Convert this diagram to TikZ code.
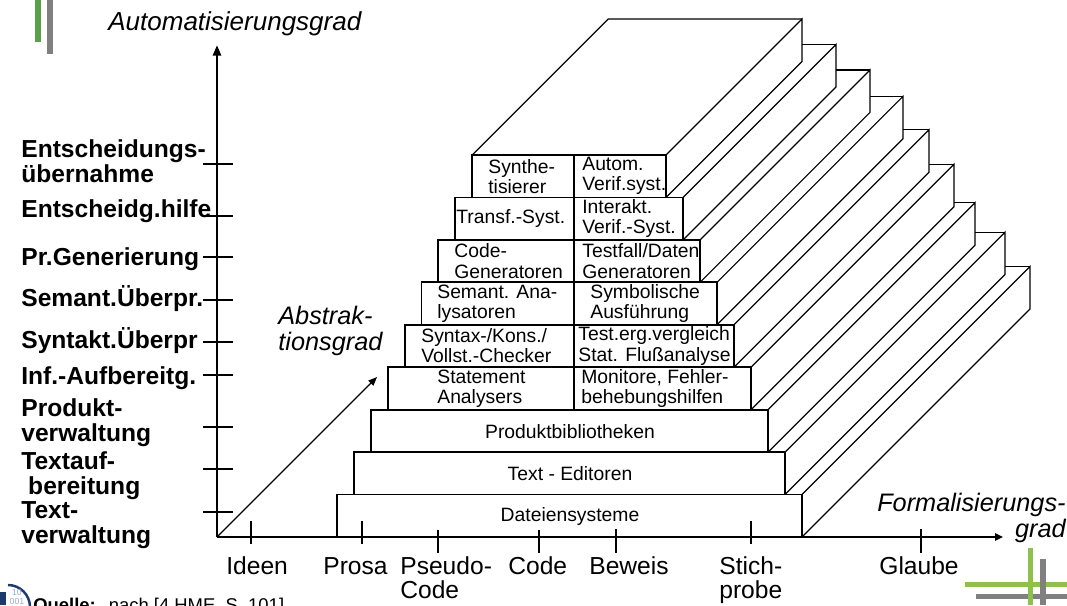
\documentclass[tikz,border=0pt]{standalone}
\usepackage{fontspec}
\setmainfont{Liberation Sans}
\usetikzlibrary{arrows.meta}
\definecolor{slidegreen}{RGB}{90,160,75}
\definecolor{lightgreen}{RGB}{142,192,78}
\definecolor{slidegray}{RGB}{128,128,128}
\definecolor{logoblue}{RGB}{28,58,108}
\definecolor{logodigit}{RGB}{150,170,205}

\tikzset{
  axis/.style={line width=1.6pt},
  ytick/.style={line width=1.1pt},
  xtick/.style={line width=0.6pt},
  stepbox/.style={line width=1.05pt},
  depth/.style={line width=0.7pt},
  divider/.style={line width=1.6pt},
  steptxt/.style={anchor=west, align=left, inner sep=0pt, font=\fontsize{11}{11.4}\selectfont},
  rowtxt/.style={inner sep=0pt, font=\fontsize{11}{11.4}\selectfont},
  ylab/.style={anchor=west, align=left, inner sep=0pt, font=\fontsize{14}{14.2}\selectfont\bfseries},
  xlab/.style={anchor=north west, align=left, inner sep=0pt, font=\fontsize{14}{13.8}\selectfont},
  xlabone/.style={xlab, anchor=base west},
  axlab/.style={inner sep=0pt, font=\fontsize{14.4}{14.6}\selectfont\itshape}
}

\begin{document}
\begin{tikzpicture}[x=0.02cm, y=-0.02cm]
\useasboundingbox (0,0) rectangle (1067,605);

% slide decoration
\fill[slidegreen] (35,0) rectangle (41,42);
\fill[slidegray] (47,0) rectangle (53,54);
\fill[lightgreen] (965,582) rectangle (1067,587);
\fill[slidegray] (976,594) rectangle (1067,599);
\fill[lightgreen] (1028,548) rectangle (1033,605);
\fill[slidegray] (1040,559) rectangle (1046,605);
\fill[logoblue] (0,592) rectangle (6,605);
\draw[logoblue, line width=1.4pt] (8,585) arc[start angle=-90, end angle=0, radius=22];
\node[inner sep=0pt, align=center, text=logodigit, font=\fontsize{5}{5}\selectfont] (bits) at (17,597) {10\\001};
\node[anchor=base west, inner sep=0pt, font=\fontsize{10.5}{12}\selectfont] (quelle) at (33,611)
  {\textbf{Quelle:}\hspace{0.7em}nach [4 HME, S. 101]};

% steps
\foreach \k/\d/\dn in {1/228/220, 2/220/207, 3/207/203, 4/203/195, 5/195/186,
                       6/186/170, 7/170/153, 8/153/136, 9/136/0}{
  \pgfmathsetmacro{\xl}{337+16.9*(\k-1)}
  \pgfmathsetmacro{\xr}{802-17*(\k-1)}
  \pgfmathsetmacro{\yb}{537-42.44*(\k-1)}
  \pgfmathsetmacro{\yt}{\yb-42.44}
  \draw[stepbox] (\xl,\yb) rectangle (\xr,\yt);
  \draw[depth] (\xr,\yt) -- ++(\d,-\d) -- ++(0,42.44) -- (\xr,\yb);
  \ifnum\k<9
    \draw[depth] (\xr+\d,\yt-\d) -- (\xr-17+\dn,\yt-\d);
  \else
    \draw[depth] (\xl,\yt) -- ++(\d,-\d) -- (\xr+\d,\yt-\d);
  \fi
}
\draw[divider] (574,155.5) -- (574,409.7);

% step texts
\node[rowtxt] (datei) at (570,516) {Dateiensysteme};
\node[rowtxt] (edit) at (570,474) {Text - Editoren};
\node[rowtxt] (bibl) at (570,432) {Produktbibliotheken};
\node[steptxt] (stmt) at (437,388.4) {Statement\\Analysers};
\node[steptxt] (moni) at (581,388.4) {Monitore, Fehler-\\behebungshilfen};
\node[steptxt] (synt) at (421,346) {Syntax-/Kons./\\Vollst.-Checker};
\node[steptxt] (test) at (578,346) {Test.erg.vergleich\\Stat. Flußanalyse};
\node[steptxt] (sema) at (437,303.6) {Semant. Ana-\\lysatoren};
\node[steptxt] (symb) at (590,303.6) {Symbolische\\Ausführung};
\node[steptxt] (cgen) at (454,261.1) {Code-\\Generatoren};
\node[steptxt] (tgen) at (582,261.1) {Testfall/Daten\\Generatoren};
\node[steptxt] (trans) at (456,218.7) {Transf.-Syst.};
\node[steptxt] (inter) at (582,218.7) {Interakt.\\Verif.-Syst.};
\node[steptxt] (synth) at (488,176.2) {Synthe-\\tisierer};
\node[steptxt] (autom) at (582,176.2) {Autom.\\Verif.syst.};

% axes
\coordinate (O) at (217,537);
\coordinate (ytip) at (217,45);
\coordinate (xtip) at (1003,537);
\coordinate (ztip) at (377,377);
\draw[axis, -{Triangle[length=6pt, width=4.5pt]}] (O) -- (ytip);
\draw[axis, -{Triangle[length=4.5pt, width=4pt]}] (O) -- (xtip);
\draw[depth, -{Triangle[length=5pt, width=4pt]}] (O) -- (ztip);

\foreach \t in {164,216,257,300,342,375,427,469,512}
  \draw[ytick] (203,\t) -- (233,\t);
\foreach \x/\a/\b in {251/521/544, 362/521/544, 438/530/553, 539/530/553,
                      616/529/553, 751/521/544, 921/529/553}
  \draw[xtick] (\x,\a) -- (\x,\b);

% axis labels
\node[axlab, anchor=base west, font=\fontsize{14.8}{15}\selectfont\itshape] (autlab) at (108,31) {Automatisierungsgrad};
\node[axlab, anchor=west, align=left] (abslab) at (278,331) {Abstrak-\\tionsgrad};
\node[axlab, anchor=east, align=right] (forlab) at (1066,518) {Formalisierungs-\\grad};

\node[ylab] (entsch) at (21,161) {Entscheidungs-\\übernahme};
\node[ylab] (hilfe) at (21,211) {Entscheidg.hilfe};
\node[ylab] (gener) at (21,259) {Pr.Generierung};
\node[ylab] (seman) at (21,299) {Semant.Überpr.};
\node[ylab] (syntk) at (21,341) {Syntakt.Überpr};
\node[ylab] (aufb) at (21,378) {Inf.-Aufbereitg.};
\node[ylab] (prodv) at (21,423) {Produkt-\\verwaltung};
\node[ylab] (texta) at (21,476) {Textauf-\\\hspace*{0.28em}bereitung};
\node[ylab] (textv) at (21,525) {Text-\\verwaltung};

\node[xlabone] (ideen) at (226,574) {Ideen};
\node[xlabone] (prosa) at (323,574) {Prosa};
\node[xlab] (pseudo) at (400,556) {Pseudo-\\Code};
\node[xlabone] (code) at (508,574) {Code};
\node[xlabone] (beweis) at (589,574) {Beweis};
\node[xlab] (stich) at (719,556) {Stich-\\probe};
\node[xlabone] (glaube) at (879,574) {Glaube};
\end{tikzpicture}
\end{document}
